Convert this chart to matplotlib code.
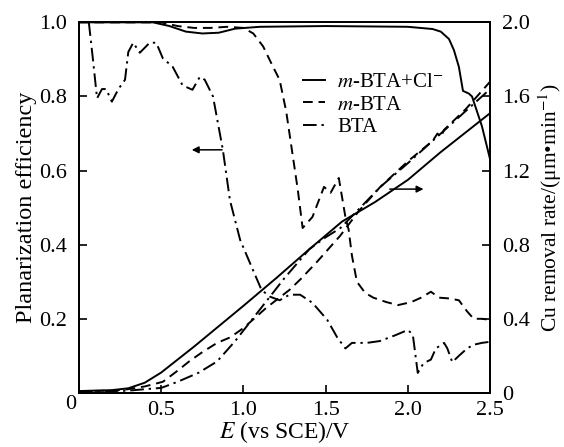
import matplotlib
matplotlib.use("Agg")
import matplotlib.pyplot as plt

plt.rcParams['font.family'] = ['Liberation Serif', 'DejaVu Serif']
plt.rcParams['mathtext.fontset'] = 'stix'
plt.rcParams['font.size'] = 16

# planarization efficiency (left axis)
e_pe_cl = [0, 0.45, 0.55, 0.65, 0.75, 0.85, 0.95, 1.1, 1.5, 2.0, 2.15, 2.2, 2.25, 2.28,
           2.31, 2.335, 2.37, 2.39, 2.45, 2.5]
pe_cl = [1.0, 1.0, 0.99, 0.975, 0.97, 0.972, 0.983, 0.988, 0.99, 0.988, 0.982, 0.975, 0.955,
         0.925, 0.88, 0.815, 0.808, 0.80, 0.72, 0.63]

e_pe_m = [0, 0.5, 0.6, 0.7, 0.8, 0.9, 1.0, 1.06, 1.12, 1.18, 1.22, 1.26, 1.3, 1.33, 1.36, 1.42,
          1.49, 1.53, 1.58, 1.62, 1.64, 1.66, 1.69, 1.74, 1.79, 1.87, 1.94, 2.02, 2.08, 2.14,
          2.19, 2.25, 2.31, 2.36, 2.40, 2.45, 2.5]
pe_m = [1.0, 1.0, 0.99, 0.985, 0.985, 0.988, 0.985, 0.97, 0.935, 0.88, 0.845, 0.76, 0.64, 0.55,
        0.445, 0.475, 0.556, 0.54, 0.58, 0.475, 0.44, 0.37, 0.30, 0.27, 0.257, 0.245, 0.237,
        0.245, 0.257, 0.273, 0.257, 0.255, 0.25, 0.22, 0.20, 0.20, 0.197]

e_pe_bta = [0.06, 0.085, 0.11, 0.14, 0.165, 0.2, 0.24, 0.28, 0.30, 0.33, 0.37, 0.43, 0.47, 0.51,
            0.57, 0.63, 0.69, 0.735, 0.765, 0.815, 0.875, 0.918, 0.98, 1.05, 1.11, 1.16, 1.22,
            1.28, 1.345, 1.42, 1.51, 1.57, 1.62, 1.66, 1.75, 1.83, 1.92, 2.0, 2.03, 2.06, 2.095,
            2.14, 2.17, 2.22, 2.24, 2.27, 2.31, 2.36, 2.40, 2.45, 2.5]
pe_bta = [1.0, 0.90, 0.795, 0.82, 0.82, 0.786, 0.82, 0.845, 0.92, 0.945, 0.918, 0.945, 0.945,
          0.903, 0.88, 0.83, 0.818, 0.853, 0.845, 0.80, 0.656, 0.52, 0.413, 0.34, 0.278, 0.26,
          0.25, 0.265, 0.265, 0.243, 0.197, 0.15, 0.12, 0.135, 0.135, 0.14, 0.155, 0.17, 0.157,
          0.054, 0.08, 0.09, 0.12, 0.135, 0.12, 0.083, 0.10, 0.12, 0.13, 0.135, 0.138]

# Cu removal rate, um/min (right axis)
e_r_cl = [0, 0.2, 0.3, 0.4, 0.5, 0.6, 0.7, 0.85, 1.0, 1.2, 1.4, 1.6, 1.8, 2.0, 2.2, 2.4, 2.5]
r_cl = [0.01, 0.015, 0.025, 0.055, 0.11, 0.18, 0.25, 0.36, 0.47, 0.62, 0.775, 0.925, 1.03,
        1.15, 1.30, 1.44, 1.51]

e_r_m = [0, 0.2, 0.3, 0.4, 0.51, 0.6, 0.67, 0.75, 0.84, 0.92, 1.0, 1.14, 1.28, 1.35, 1.45,
         1.59, 1.7, 1.83, 2.0, 2.15, 2.18, 2.2, 2.22, 2.35, 2.5]
r_m = [0.01, 0.012, 0.02, 0.035, 0.06, 0.12, 0.17, 0.22, 0.27, 0.30, 0.35, 0.46, 0.556, 0.616,
       0.71, 0.85, 0.98, 1.11, 1.25, 1.36, 1.40, 1.38, 1.42, 1.53, 1.68]

e_r_bta = [0, 0.2, 0.3, 0.4, 0.5, 0.6, 0.73, 0.84, 0.95, 1.1, 1.25, 1.4, 1.5, 1.59, 1.7, 1.83,
           2.0, 2.2, 2.35, 2.5]
r_bta = [0.01, 0.01, 0.012, 0.02, 0.027, 0.06, 0.11, 0.17, 0.28, 0.45, 0.62, 0.775, 0.84, 0.89,
         0.99, 1.11, 1.24, 1.40, 1.52, 1.64]

labels = [r'$m$-BTA+Cl$^{-}$', r'$m$-BTA', 'BTA']

fig = plt.figure(figsize=(5.64, 4.47), dpi=100)
ax = fig.add_axes([0.140, 0.121, 0.729, 0.829])
ax2 = ax.twinx()

lw = 1.4
dash = (0, (5, 3))
dashdot = (0, (7, 2.5, 1.2, 2.5))

l1, = ax.plot(e_pe_cl, pe_cl, color='black', lw=lw, ls='-')
l2, = ax.plot(e_pe_m, pe_m, color='black', lw=lw, ls=dash)
l3, = ax.plot(e_pe_bta, pe_bta, color='black', lw=lw, ls=dashdot)
ax2.plot(e_r_cl, r_cl, color='black', lw=lw, ls='-')
ax2.plot(e_r_m, r_m, color='black', lw=lw, ls=dash)
ax2.plot(e_r_bta, r_bta, color='black', lw=lw, ls=dashdot)

ax.set_xlim(0, 2.5)
ax.set_ylim(0, 1.0)
ax2.set_ylim(0, 2.0)

ax.set_xticks([0, 0.5, 1.0, 1.5, 2.0, 2.5])
ax.set_xticklabels(['', '0.5', '1.0', '1.5', '2.0', '2.5'])
ax.set_yticks([0, 0.2, 0.4, 0.6, 0.8, 1.0])
ax.set_yticklabels(['', '0.2', '0.4', '0.6', '0.8', '1.0'])
ax2.set_yticks([0, 0.4, 0.8, 1.2, 1.6, 2.0])
ax2.set_yticklabels(['0', '0.4', '0.8', '1.2', '1.6', '2.0'])
ax.text(-0.021, -0.032, '0', transform=ax.transAxes, ha='center', va='center')

ax.tick_params(axis='y', direction='in', length=6, width=1.2, pad=8.5)
ax.tick_params(axis='x', direction='in', length=6, width=1.2, pad=6)
ax2.tick_params(axis='y', direction='in', length=6, width=1.2, pad=8.5)
for a in (ax, ax2):
    for s in a.spines.values():
        s.set_linewidth(1.3)

ax.set_xlabel(r'$E$ (vs SCE)/V', fontsize=17, labelpad=-1)
ax.set_ylabel('Planarization efficiency', fontsize=17.5, labelpad=2)
ax2.set_ylabel('Cu removal rate/(μm•min$^{-1}$)', fontsize=15.5, labelpad=5)

ax.annotate('', xy=(0.686, 0.656), xytext=(0.87, 0.656),
            arrowprops=dict(arrowstyle='-|>', color='black', lw=1.1,
                            mutation_scale=10, shrinkA=0, shrinkB=0))
ax.annotate('', xy=(2.095, 0.55), xytext=(1.89, 0.55),
            arrowprops=dict(arrowstyle='-|>', color='black', lw=1.1,
                            mutation_scale=10, shrinkA=0, shrinkB=0))

ax.legend([l1, l2, l3], labels, loc='upper left', bbox_to_anchor=(0.545, 0.865),
          frameon=False, handlelength=1.05, handletextpad=0.6, labelspacing=0.15,
          borderpad=0, borderaxespad=0, fontsize=15)

fig.savefig('out.png', dpi=100)
